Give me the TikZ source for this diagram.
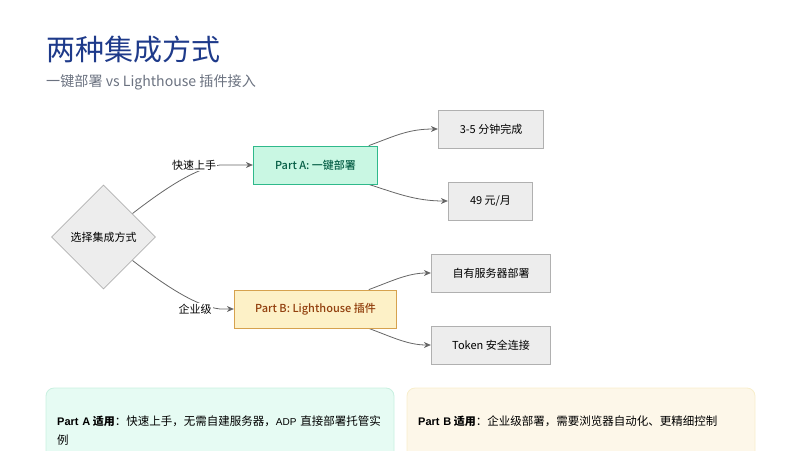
\documentclass[tikz,border=0pt]{standalone}
\usepackage{fontspec}
\setmainfont{Noto Sans CJK SC}
\newfontfamily\latfont{Liberation Sans}
\newfontfamily\medfont{Noto Sans CJK SC Medium}
\usetikzlibrary{shapes.geometric,arrows.meta,backgrounds}
\definecolor{titleblue}{HTML}{1E3A8A}
\definecolor{subgray}{HTML}{6B7280}
\definecolor{afill}{HTML}{C9F7E3}
\definecolor{aline}{HTML}{2FB98B}
\definecolor{atext}{HTML}{065F46}
\definecolor{bfill}{HTML}{FDF1C7}
\definecolor{bline}{HTML}{D6A24E}
\definecolor{btext}{HTML}{92400E}
\definecolor{gfill}{HTML}{EDEDED}
\definecolor{gline}{HTML}{B0B0B0}
\definecolor{edgegray}{HTML}{666666}
\definecolor{cardafill}{HTML}{E6FBF3}
\definecolor{cardaline}{HTML}{C8F0E0}
\definecolor{cardbfill}{HTML}{FDF7E9}
\definecolor{cardbline}{HTML}{F8EECB}
\newcommand{\sz}[2]{\fontsize{#1}{#2}\selectfont}
\newcommand{\lat}[1]{{\sz{10}{19}\latfont #1}}
\newcommand{\lead}[1]{{\sz{11}{19}\latfont\bfseries Part #1}\hspace{2.5pt}{\sz{11}{19}\bfseries 适用}}
\tikzset{
  titletext/.style={anchor=west,inner sep=0pt,text=titleblue,font=\sz{29}{34}},
  subtext/.style={anchor=west,inner sep=0pt,text=subgray,font=\sz{14.1}{18}},
  box/.style={draw,rectangle,line width=0.8pt,inner sep=0pt,font=\sz{11}{14}},
  graybox/.style={box,fill=gfill,draw=gline,text=black},
  parta/.style={box,fill=afill,draw=aline,text=atext,font=\sz{11}{14}\medfont},
  partb/.style={box,fill=bfill,draw=bline,text=btext,font=\sz{11}{14}\medfont},
  choice/.style={draw=gline,fill=gfill,diamond,aspect=1,line width=0.8pt,inner sep=0pt,minimum width=104pt,minimum height=104pt,font=\sz{11}{14}},
  edgelabel/.style={fill=white,inner sep=1pt,font=\sz{11}{14},text=black},
  link/.style={draw=edgegray,line width=0.8pt,-{Stealth[length=7pt,width=6pt]}},
  carda/.style={draw=cardaline,fill=cardafill,line width=0.8pt,rounded corners=8pt},
  cardb/.style={draw=cardbline,fill=cardbfill,line width=0.8pt,rounded corners=8pt},
  cardtext/.style={anchor=north west,inner sep=0pt,align=left,font=\sz{11.5}{19},text=black},
}
\begin{document}
\begin{tikzpicture}[x=1pt,y=-1pt]
\useasboundingbox (0,0) rectangle (800,450);
\clip (0,0) rectangle (800,450);

\node[titletext] (title) at (46,49) {两种集成方式};
\node[subtext] (subtitle) at (46,82.5) {一键部署 vs Lighthouse 插件接入};

\node[choice] (d) at (103.5,237) {选择集成方式};
\node[parta,minimum width=124.5pt,minimum height=38pt] (A) at (315.5,165) {Part A: 一键部署};
\node[partb,minimum width=162.5pt,minimum height=38pt] (B) at (315.5,309) {Part B: Lighthouse 插件};
\node[graybox,minimum width=105.5pt,minimum height=38pt] (a1) at (491,129) {3-5 分钟完成};
\node[graybox,minimum width=84.5pt,minimum height=38pt] (a2) at (490.5,201) {49 元/月};
\node[graybox,minimum width=119.5pt,minimum height=38pt] (b1) at (491,273) {自有服务器部署};
\node[graybox,minimum width=119.5pt,minimum height=38pt] (b2) at (491,345) {Token 安全连接};

\node[edgelabel] (lq) at (194,165) {快速上手};
\node[edgelabel] (le) at (195,309) {企业级};

\begin{scope}[on background layer]
\draw[link] (d.39) .. controls (163,190) and (195,168) .. (220,165) -- (A.west);
\draw[link] (d.-39) .. controls (163,284) and (195,306) .. (220,309) -- (B.west);
\draw[link] (A.20) .. controls (395,136) and (408,129) .. (a1.west);
\draw[link] (A.-20) .. controls (396,193) and (415,201) .. (a2.west);
\draw[link] (B.20) .. controls (392,281) and (408,273) .. (b1.west);
\draw[link] (B.-20) .. controls (392,337) and (408,345) .. (b2.west);
\end{scope}

\draw[carda] (46,388) rectangle (394,480);
\draw[cardb] (407,388) rectangle (755,480);
\node[cardtext,text width=345pt] (ta) at (57,415.5) {\lead{A}：快速上手，无需自建服务器，\lat{ADP} 直接部署托管实\\例};
\node[cardtext,text width=345pt] (tb) at (418,415.5) {\lead{B}：企业级部署，需要浏览器自动化、更精细控制};
\end{tikzpicture}
\end{document}
